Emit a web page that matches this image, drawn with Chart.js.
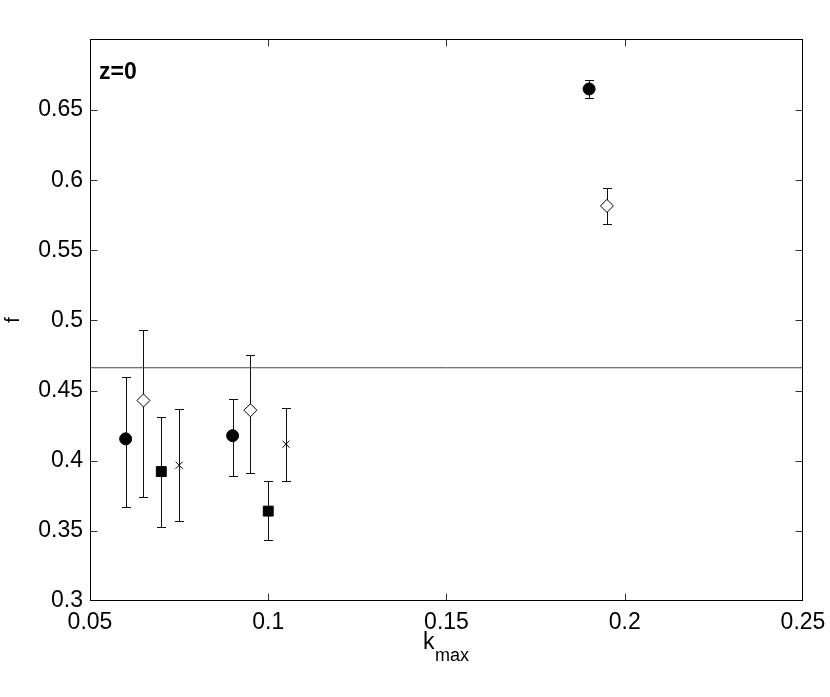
<!DOCTYPE html>
<html>
<head>
<meta charset="utf-8">
<script src="https://cdn.jsdelivr.net/npm/chart.js@4.4.0/dist/chart.umd.min.js"></script>
<style>
html,body{margin:0;padding:0;background:#fff;}
canvas{display:block;}
</style>
</head>
<body>
<canvas id="c" width="830" height="697"></canvas>
<script>
// ---- data ----
const xTicks = [0.05, 0.1, 0.15, 0.2, 0.25];
const xTickLabels = ['0.05', '0.1', '0.15', '0.2', '0.25'];
const yTicks = [0.3, 0.35, 0.4, 0.45, 0.5, 0.55, 0.6, 0.65];
const yTickLabels = ['0.3', '0.35', '0.4', '0.45', '0.5', '0.55', '0.6', '0.65'];

const circleX = [0.06, 0.09, 0.19];
const circleY = [0.4156, 0.4179, 0.6651];
const circleLo = [0.3672, 0.3888, 0.6587];
const circleHi = [0.4594, 0.4442, 0.6718];

const diamondX = [0.065, 0.095, 0.195];
const diamondY = [0.443, 0.436, 0.5817];
const diamondLo = [0.3743, 0.3914, 0.5691];
const diamondHi = [0.4933, 0.4751, 0.5943];

const squareX = [0.07, 0.10];
const squareY = [0.3923, 0.3641];
const squareLo = [0.3528, 0.3435];
const squareHi = [0.4314, 0.3859];

const crossX = [0.075, 0.105];
const crossY = [0.3968, 0.4118];
const crossLo = [0.3568, 0.3855];
const crossHi = [0.4371, 0.4376];

const refLineY = 0.4663;
const xRange = [0.05, 0.25];
const yRange = [0.3, 0.7];

const FONT = "'Liberation Sans', Arial, Helvetica, sans-serif";

function pts(xs, ys) { return xs.map((x, i) => ({x: x, y: ys[i]})); }

const datasets = [
  { label: 'ref', type: 'line', data: [{x: xRange[0], y: refLineY}, {x: xRange[1], y: refLineY}],
    borderColor: '#444', borderWidth: 1, pointRadius: 0, fill: false, order: 5 },
  { label: 'circle', data: pts(circleX, circleY), errLo: circleLo, errHi: circleHi,
    pointStyle: 'circle', pointRadius: 6, backgroundColor: '#000', borderColor: '#000', borderWidth: 1 },
  { label: 'diamond', data: pts(diamondX, diamondY), errLo: diamondLo, errHi: diamondHi,
    pointStyle: 'rectRot', pointRadius: 6.5, backgroundColor: '#fff', borderColor: '#000', borderWidth: 1 },
  { label: 'square', data: pts(squareX, squareY), errLo: squareLo, errHi: squareHi,
    pointStyle: 'rect', pointRadius: 7, backgroundColor: '#000', borderColor: '#000', borderWidth: 1 },
  { label: 'cross', data: pts(crossX, crossY), errLo: crossLo, errHi: crossHi,
    pointStyle: 'crossRot', pointRadius: 5, backgroundColor: '#000', borderColor: '#000', borderWidth: 1 }
];

const errorBars = {
  id: 'errorBars',
  beforeDatasetsDraw(chart) {
    const ctx = chart.ctx, xs = chart.scales.x, ys = chart.scales.y;
    ctx.save();
    ctx.strokeStyle = '#111';
    ctx.lineWidth = 1;
    chart.data.datasets.forEach(ds => {
      if (!ds.errLo) return;
      ds.data.forEach((p, i) => {
        const px = Math.round(xs.getPixelForValue(p.x)) + 0.5;
        const lo = Math.round(ys.getPixelForValue(ds.errLo[i])) + 0.5;
        const hi = Math.round(ys.getPixelForValue(ds.errHi[i])) + 0.5;
        const cw = 4.5;
        ctx.beginPath();
        ctx.moveTo(px, lo); ctx.lineTo(px, hi);
        ctx.moveTo(px - cw, lo); ctx.lineTo(px + cw, lo);
        ctx.moveTo(px - cw, hi); ctx.lineTo(px + cw, hi);
        ctx.stroke();
      });
    });
    ctx.restore();
  }
};

const frame = {
  id: 'frame',
  afterDraw(chart) {
    const ctx = chart.ctx, a = chart.chartArea, xs = chart.scales.x, ys = chart.scales.y;
    const L = Math.round(a.left) + 0.5, R = Math.round(a.right) - 0.5;
    const T = Math.round(a.top) - 0.5, B = Math.round(a.bottom) - 0.5;
    const clamp = (v, lo, hi) => Math.min(hi, Math.max(lo, v));
    ctx.save();
    ctx.strokeStyle = '#333';
    ctx.lineWidth = 1;
    const tl = 7;
    ctx.beginPath();
    xTicks.forEach(v => {
      const px = clamp(Math.round(xs.getPixelForValue(v)) + 0.5, L, R);
      ctx.moveTo(px, B); ctx.lineTo(px, B - tl);
      ctx.moveTo(px, T); ctx.lineTo(px, T + tl);
    });
    yTicks.forEach(v => {
      const py = clamp(Math.round(ys.getPixelForValue(v)) + 0.5, T, B);
      ctx.moveTo(L, py); ctx.lineTo(L + tl, py);
      ctx.moveTo(R, py); ctx.lineTo(R - tl, py);
    });
    ctx.stroke();
    ctx.strokeStyle = '#000';
    ctx.strokeRect(L, T, R - L, B - T);
    // texts
    ctx.fillStyle = '#000';
    ctx.textBaseline = 'alphabetic';
    ctx.textAlign = 'left';
    ctx.font = 'bold 23px ' + FONT;
    ctx.fillText('z=0', 99, 79);
    // x title k_max
    ctx.font = '23px ' + FONT;
    ctx.fillText('k', 423, 649);
    ctx.font = '18px ' + FONT;
    ctx.fillText('max', 435, 661);
    // y title
    ctx.save();
    ctx.translate(19, 320);
    ctx.rotate(-Math.PI / 2);
    ctx.textAlign = 'center';
    ctx.font = '20px ' + FONT;
    ctx.fillText('f', 0, 0);
    ctx.restore();
    ctx.restore();
  }
};

new Chart(document.getElementById('c'), {
  type: 'scatter',
  data: { datasets: datasets },
  options: {
    responsive: false,
    animation: false,
    devicePixelRatio: 1,
    layout: { padding: { top: 40, right: 27, left: 0, bottom: 0 } },
    plugins: { legend: { display: false }, tooltip: { enabled: false } },
    scales: {
      x: {
        type: 'linear', min: xRange[0], max: xRange[1],
        grid: { display: false, drawTicks: false },
        border: { display: false },
        afterBuildTicks: s => { s.ticks = xTicks.map(v => ({value: v})); },
        afterFit: s => { s.height = 96; s.paddingLeft = 0; s.paddingRight = 0; },
        ticks: { color: '#000', font: { family: FONT, size: 23 }, padding: 8,
                 maxRotation: 0, autoSkip: false,
                 callback: (v, i) => xTickLabels[i] }
      },
      y: {
        type: 'linear', min: yRange[0], max: yRange[1],
        grid: { display: false, drawTicks: false },
        border: { display: false },
        afterBuildTicks: s => { s.ticks = yTicks.map(v => ({value: v})); },
        afterFit: s => { s.width = 90; s.paddingTop = 0; s.paddingBottom = 0; },
        ticks: { color: '#000', font: { family: FONT, size: 23 }, padding: 7,
                 autoSkip: false, callback: (v, i) => yTickLabels[i] }
      }
    }
  },
  plugins: [errorBars, frame]
});
</script>
</body>
</html>
